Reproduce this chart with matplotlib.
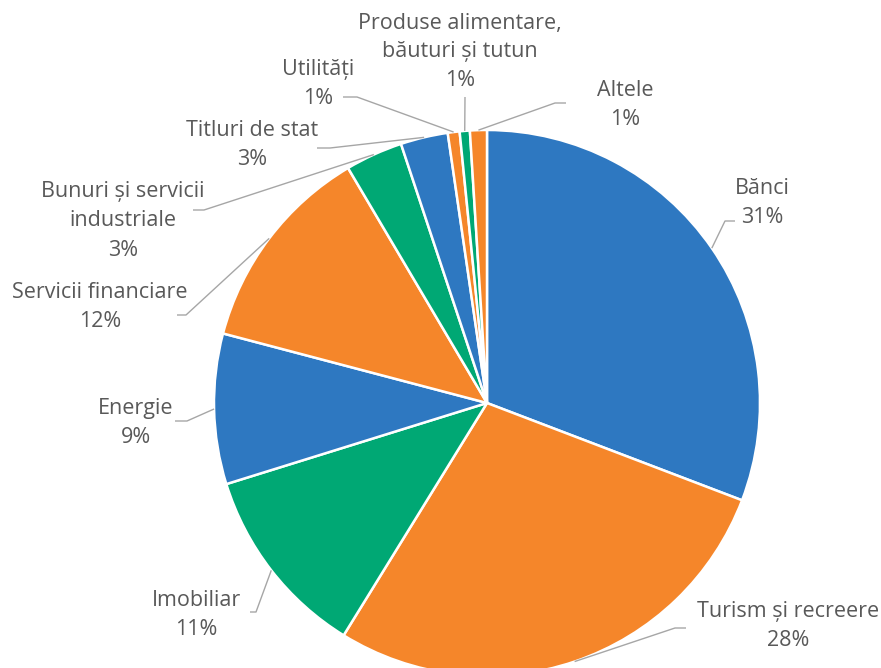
import numpy as np
import matplotlib.pyplot as plt

# data
sectors = ["Bănci", "Turism și recreere", "Imobiliar", "Energie",
           "Servicii financiare", "Bunuri și servicii\nindustriale",
           "Titluri de stat", "Utilități",
           "Produse alimentare,\nbăuturi și tutun", "Altele"]
shares = [30.8, 28.0, 11.4, 8.9, 12.4, 3.4, 2.8, 0.7, 0.6, 1.0]

BLUE = "#2E78C1"
ORANGE = "#F5862A"
GREEN = "#00A874"
colors = [BLUE, ORANGE, GREEN, BLUE, ORANGE, GREEN, BLUE, ORANGE, GREEN, ORANGE]

# label layout in pixels: text centre, stub end, stub length (signed)
W, H = 881, 668
CX, CY, R = 487, 403, 273
label_pos = [(762, 203), (788, 626), (196, 615), (136, 423), (100, 307),
             (123, 221), (252, 145), (318, 84), (460, 52), (625, 105)]
stub_pos = [(735, 221), (686, 628), (250, 612), (175, 421), (177, 315),
            (193, 210), (317, 148), (343, 97), (465, 97), (566, 103)]
stub_len = [-10, -11, 6, 12, 9, 11, 13, 14, 0, -11]


def px(x, y):
    return (x - CX) / R, (CY - y) / R


fig = plt.figure(figsize=(W / 100, H / 100), dpi=100)
ax = fig.add_axes([0, 0, 1, 1])
wedges, _ = ax.pie(shares, colors=colors, startangle=90, counterclock=False,
                   radius=1.0, wedgeprops=dict(edgecolor="white", linewidth=1.8))
ax.set_xlim(-CX / R, (W - CX) / R)
ax.set_ylim(-(H - CY) / R, CY / R)
ax.set_aspect("equal")
ax.axis("off")

total = sum(shares)
cum = 0
for i, (name, v) in enumerate(zip(sectors, shares)):
    mid = np.deg2rad(90 - (cum + v / 2) / total * 360)
    cum += v
    ex, ey = np.cos(mid), np.sin(mid)
    sx, sy = px(*stub_pos[i])
    if stub_len[i] == 0:
        xs, ys = [sx, ex], [sy, ey]
    else:
        kx = sx + stub_len[i] / R
        xs, ys = [sx, kx, ex], [sy, sy, ey]
    ax.plot(xs, ys, color="#A6A6A6", lw=1.0, solid_capstyle="butt")
    tx, ty = px(*label_pos[i])
    ax.text(tx, ty, f"{name}\n{round(v):.0f}%", ha="center", va="center",
            multialignment="center", fontsize=15.5, color="#595959",
            family="Open Sans", linespacing=1.5)

fig.savefig("out.png", dpi=100)
